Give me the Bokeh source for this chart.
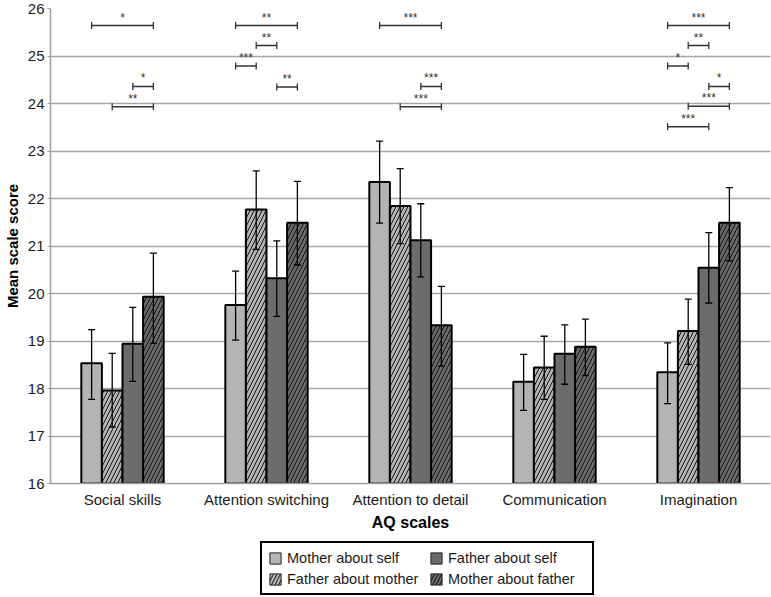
from bokeh.plotting import figure
from bokeh.layouts import column
from bokeh.models import (ColumnDataSource, FactorRange, Legend, LegendItem, Whisker,
                          Range1d, FixedTicker, TeeHead)
from bokeh.transform import dodge
from bokeh.core.properties import value
from bokeh.embed import file_html
from bokeh.resources import INLINE

# ---------------- data ----------------
categories = ["Social skills", "Attention switching", "Attention to detail",
              "Communication", "Imagination"]
series = ["Mother about self", "Father about mother", "Father about self", "Mother about father"]

mother_self = [18.53, 19.76, 22.35, 18.14, 18.34]
father_mother = [17.96, 21.77, 21.84, 18.44, 19.21]
father_self = [18.94, 20.32, 21.12, 18.73, 20.54]
mother_father = [19.93, 21.49, 19.33, 18.88, 21.49]

mother_self_lo = [17.77, 19.02, 21.48, 17.54, 17.68]
mother_self_hi = [19.24, 20.47, 23.21, 18.72, 18.96]
father_mother_lo = [17.19, 20.93, 21.05, 17.77, 18.51]
father_mother_hi = [18.74, 22.58, 22.63, 19.10, 19.88]
father_self_lo = [18.15, 19.52, 20.35, 18.09, 19.80]
father_self_hi = [19.71, 21.11, 21.89, 19.34, 21.28]
mother_father_lo = [18.95, 20.60, 18.47, 18.27, 20.69]
mother_father_hi = [20.85, 22.36, 20.15, 19.46, 22.23]

# significance brackets: category, from-series index, to-series index, height, label
sig_cat = ["Social skills", "Social skills", "Social skills",
           "Attention switching", "Attention switching", "Attention switching", "Attention switching",
           "Attention to detail", "Attention to detail", "Attention to detail",
           "Imagination", "Imagination", "Imagination", "Imagination", "Imagination", "Imagination"]
sig_from = [0, 2, 1,
            0, 1, 0, 2,
            0, 2, 1,
            0, 1, 0, 2, 1, 0]
sig_to = [3, 3, 3,
          3, 2, 1, 3,
          3, 3, 3,
          3, 2, 1, 3, 3, 2]
sig_y = [25.64, 24.36, 23.93,
         25.64, 25.22, 24.79, 24.35,
         25.64, 24.36, 23.93,
         25.64, 25.22, 24.79, 24.36, 23.94, 23.51]
sig_label = ["*", "*", "**",
             "**", "**", "***", "**",
             "***", "***", "***",
             "***", "**", "*", "*", "***", "***"]

y_ticks = list(range(16, 27))

# ---------------- styling ----------------
FONT = "Liberation Sans"
bar_width = 0.143
offsets = [-0.2145, -0.0715, 0.0715, 0.2145]
fills = ["#b4b4b4", "#b4b4b4", "#6b6b6b", "#6b6b6b"]
hatches = [None, "/", None, "/"]

p = figure(width=771, height=535, x_range=FactorRange(*categories, range_padding=0),
           y_range=Range1d(16, 26), output_backend="svg", toolbar_location=None,
           min_border_left=50, min_border_right=1, min_border_top=8, min_border_bottom=52)
p.outline_line_color = None
p.background_fill_color = "white"

source = ColumnDataSource(dict(
    cat=categories,
    v0=mother_self, v1=father_mother, v2=father_self, v3=mother_father,
    lo0=mother_self_lo, hi0=mother_self_hi,
    lo1=father_mother_lo, hi1=father_mother_hi,
    lo2=father_self_lo, hi2=father_self_hi,
    lo3=mother_father_lo, hi3=mother_father_hi,
))

for i in range(4):
    kw = dict(x=dodge("cat", offsets[i], range=p.x_range), top=f"v{i}", bottom=16,
              width=bar_width, source=source, fill_color=fills[i],
              line_color="black", line_width=2)
    if hatches[i]:
        kw.update(hatch_pattern=hatches[i], hatch_color="#111111", hatch_scale=8, hatch_weight=1)
    p.vbar(**kw)
    w = Whisker(base=dodge("cat", offsets[i], range=p.x_range), lower=f"lo{i}", upper=f"hi{i}",
                source=source, line_color="black", line_width=1.3, level="annotation",
                upper_head=TeeHead(size=7, line_color="black", line_width=1.3),
                lower_head=TeeHead(size=7, line_color="black", line_width=1.3))
    p.add_layout(w)

# significance brackets
x0 = [categories.index(c) + 0.5 + offsets[f] for c, f in zip(sig_cat, sig_from)]
x1 = [categories.index(c) + 0.5 + offsets[t] for c, t in zip(sig_cat, sig_to)]
xm = [(a + b) / 2 for a, b in zip(x0, x1)]
sig_src = ColumnDataSource(dict(x0=x0, x1=x1, xm=xm, y=sig_y, label=sig_label))
br = Whisker(dimension="width", base="y", lower="x0", upper="x1", source=sig_src,
             line_color="#333333", line_width=1.5, level="annotation",
             upper_head=TeeHead(size=7, line_color="#333333", line_width=1.3),
             lower_head=TeeHead(size=7, line_color="#333333", line_width=1.3))
p.add_layout(br)
p.text(x="xm", y="y", text="label", source=sig_src, text_align="center",
       text_baseline="bottom", y_offset=-1, text_font=value(FONT),
       text_font_size="12px", text_color="#333333")

# axes
p.yaxis.ticker = FixedTicker(ticks=y_ticks)
p.yaxis.axis_label = "Mean scale score"
p.xaxis.axis_label = "AQ scales"
for ax in (p.xaxis, p.yaxis):
    ax.axis_label_text_font = FONT
    ax.axis_label_text_font_style = "bold"
    ax.axis_label_text_color = "black"
    ax.major_label_text_font = FONT
    ax.major_label_text_font_size = "15px"
    ax.major_label_text_color = "#1a1a1a"
    ax.axis_line_color = "#a0a0a0"
    ax.axis_line_width = 1.5
    ax.minor_tick_line_color = None
p.yaxis.axis_label_text_font_size = "15px"
p.xaxis.axis_label_text_font_size = "16px"
p.yaxis.major_tick_line_color = "#a0a0a0"
p.yaxis.major_tick_out = 3
p.yaxis.major_tick_in = 0
p.yaxis.major_label_standoff = 3
p.yaxis.axis_label_standoff = 4
p.xaxis.major_tick_line_color = None
p.xaxis.major_label_standoff = 1
p.xaxis.axis_label_standoff = 3
p.xgrid.grid_line_color = None
p.ygrid.grid_line_color = "#a6a6a6"
p.ygrid.grid_line_width = 1.5

# ---------------- legend panel ----------------
# legend swatches come from hidden copies of the series renderers
lf = figure(width=771, height=62, x_range=FactorRange(*categories, range_padding=0),
            y_range=Range1d(16, 26), output_backend="svg", toolbar_location=None,
            x_axis_type=None, y_axis_type=None, min_border=0)
lf.outline_line_color = None
lf.xgrid.grid_line_color = None
lf.ygrid.grid_line_color = None
lrs = []
for i in range(4):
    kw = dict(x=dodge("cat", offsets[i], range=lf.x_range), top=f"v{i}", bottom=16,
              width=bar_width, source=source, fill_color=fills[i],
              line_color="#222222", line_width=1)
    if hatches[i]:
        kw.update(hatch_pattern=hatches[i], hatch_color="#111111", hatch_scale=7, hatch_weight=1)
    r = lf.vbar(**kw)
    r.visible = False
    lrs.append(r)
items = [LegendItem(label=series[i], renderers=[lrs[i]]) for i in range(4)]
legend = Legend(items=items, location=(210, 2), orientation="vertical", ncols=2,
                border_line_color="black", border_line_width=2, border_line_alpha=1,
                label_text_font=FONT, label_text_font_size="14.5px",
                label_text_color="#1a1a1a", background_fill_alpha=1,
                inactive_fill_alpha=0,
                glyph_width=14, glyph_height=14, label_height=17, label_width=138,
                spacing=4, padding=6, label_standoff=5, margin=0)
lf.add_layout(legend, "center")

open("out.html", "w").write(file_html(column(p, lf, spacing=0), INLINE))
